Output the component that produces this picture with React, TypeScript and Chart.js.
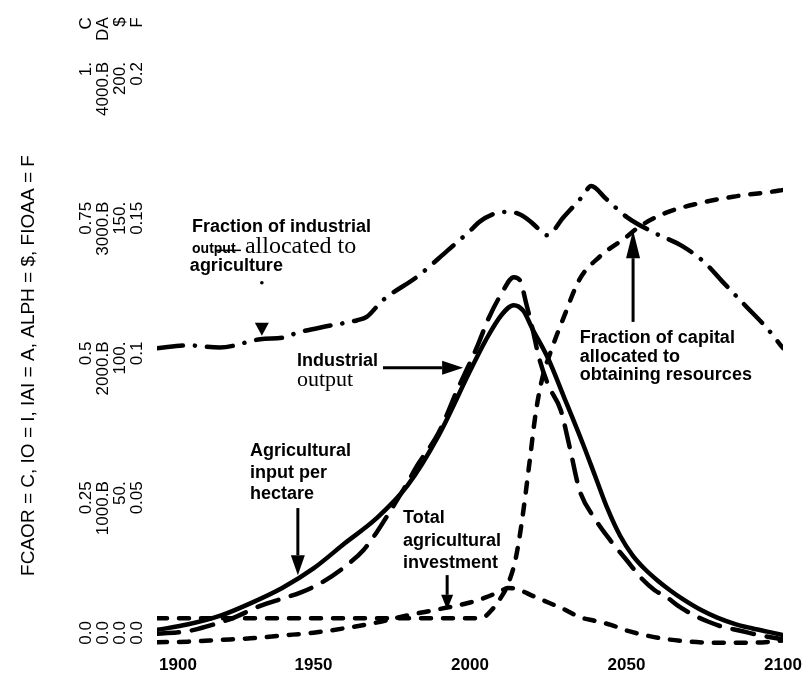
import React, { useEffect, useRef } from 'react';
import { Chart, registerables } from 'chart.js';

Chart.register(...registerables);

// ---------- axes ----------
const xTickYears = [1900, 1950, 2000, 2050, 2100];
const yTickFractions = [0, 0.25, 0.5, 0.75, 1];
const fcaorTickLabels = ['0.0', '0.25', '0.5', '0.75', '1.'];
const ioTickLabels = ['0.0', '1000.B', '2000.B', '3000.B', '4000.B'];
const aiphTickLabels = ['0.0', '50.', '100.', '150.', '200.'];
const fioaaTickLabels = ['0.0', '0.05', '0.1', '0.15', '0.2'];
const headerTickValue = 1.08;
const headerLabels = ['C', 'DA', '$', 'F'];
const axisTitle = 'FCAOR = C, IO = I, IAI = A, ALPH = $, FIOAA = F';

const fcaorMax = 1;
const ioMax = 4000;
const aiphMax = 200;
const fioaaMax = 0.2;

// ---------- series ----------
// Agricultural input per hectare ($, solid)
const aiphYears = [1900, 1910, 1920, 1930, 1940, 1950, 1960, 1970, 1980, 1990, 2000, 2005, 2010, 2014, 2017, 2020, 2025, 2030, 2036, 2040, 2044, 2048, 2052, 2056, 2060, 2064, 2068, 2074, 2079, 2085, 2090, 2095, 2100];
const aiphValues = [5.4, 7.4, 10.4, 15, 20.4, 27.4, 36.4, 45.2, 57, 75, 98, 109, 118, 121.6, 119.6, 113, 102.4, 88.8, 72.2, 60.4, 48.6, 39, 32, 27, 23, 19.5, 16.4, 12.4, 9.8, 7.4, 6, 4.8, 3.6];

// Industrial output (I, long dash), billions
const ioYears = [1900, 1910, 1920, 1925, 1933, 1940, 1946, 1953, 1960, 1966, 1970, 1974, 1980, 1983, 1990, 1996, 2002, 2006, 2010, 2014, 2016, 2018, 2020, 2022, 2025, 2029, 2032, 2035, 2040, 2045, 2050, 2055, 2059, 2063, 2067, 2072, 2076, 2081, 2086, 2092, 2098, 2100];
const ioValues = [80, 100, 160, 200, 280, 332, 376, 452, 560, 680, 800, 940, 1160, 1280, 1520, 1828, 2120, 2340, 2512, 2632, 2608, 2440, 2260, 2060, 1860, 1680, 1400, 1108, 900, 744, 608, 472, 392, 340, 272, 208, 168, 128, 104, 72, 48, 40];

// Total agricultural investment (A, dashed), billions
const taiYears = [1900, 1910, 1920, 1930, 1940, 1950, 1960, 1970, 1980, 1990, 2000, 2005, 2010, 2012, 2015, 2020, 2025, 2030, 2035, 2040, 2045, 2050, 2060, 2070, 2080, 2090, 2100];
const taiValues = [20, 24, 36, 48, 68, 88, 120, 160, 212, 256, 304, 340, 388, 408, 400, 352, 304, 256, 200, 172, 144, 104, 52, 24, 16, 16, 32];

// Fraction of capital allocated to obtaining resources (C, dashed)
const fcaorYears = [1900, 1950, 2000, 2004, 2007, 2010, 2012, 2014.5, 2016.5, 2019, 2021, 2023, 2026, 2030, 2035, 2041.5, 2050, 2054, 2062.5, 2073, 2084, 2096.5, 2100];
const fcaorValues = [0.048, 0.048, 0.048, 0.049, 0.063, 0.086, 0.107, 0.152, 0.218, 0.326, 0.415, 0.475, 0.528, 0.587, 0.654, 0.695, 0.73, 0.748, 0.773, 0.79, 0.802, 0.811, 0.814];

// Fraction of industrial output allocated to agriculture (F, dash-dot)
const fioaaYears = [1900, 1910, 1920, 1933, 1941.5, 1944, 1955, 1964, 1967, 1972, 1983.4, 1992.7, 2000.6, 2003, 2008, 2012.8, 2016, 2019, 2022, 2024.6, 2030, 2036, 2038.7, 2043.5, 2050, 2059, 2067.7, 2075, 2080.5, 2088, 2095, 2100];
const fioaaValues = [0.1062, 0.1072, 0.1064, 0.1094, 0.1102, 0.1114, 0.1142, 0.1162, 0.1174, 0.1232, 0.132, 0.141, 0.1488, 0.1514, 0.1544, 0.155, 0.154, 0.1518, 0.1488, 0.1466, 0.1532, 0.1606, 0.1642, 0.1596, 0.1532, 0.1474, 0.1428, 0.1368, 0.1302, 0.1214, 0.1132, 0.1062];

// ---------- annotations (placed in year / FCAOR-axis units) ----------
const SANS = '"Liberation Sans", Arial, Helvetica, sans-serif';
const SERIF = '"Liberation Serif", "Times New Roman", serif';
const boldNote = `bold 18px ${SANS}`;
const noteTexts = [
  { text: 'Fraction of industrial', year: 1911.2, value: 0.739, font: boldNote },
  { text: 'output', year: 1911.2, value: 0.702, font: `bold 14px ${SANS}` },
  { text: 'allocated to', year: 1928.1, value: 0.701, font: `24px ${SERIF}` },
  { text: 'agriculture', year: 1910.5, value: 0.669, font: boldNote },
  { text: 'Industrial', year: 1944.7, value: 0.499, font: boldNote },
  { text: 'output', year: 1944.7, value: 0.463, font: `22px ${SERIF}` },
  { text: 'Fraction of capital', year: 2035.1, value: 0.54, font: boldNote },
  { text: 'allocated to', year: 2035.1, value: 0.506, font: boldNote },
  { text: 'obtaining resources', year: 2035.1, value: 0.474, font: boldNote },
  { text: 'Agricultural', year: 1929.7, value: 0.338, font: boldNote },
  { text: 'input per', year: 1929.7, value: 0.299, font: boldNote },
  { text: 'hectare', year: 1929.7, value: 0.261, font: boldNote },
  { text: 'Total', year: 1978.6, value: 0.218, font: boldNote },
  { text: 'agricultural', year: 1978.6, value: 0.177, font: boldNote },
  { text: 'investment', year: 1978.6, value: 0.138, font: boldNote },
];
const noteArrows = [
  { fromYear: 1933.5, fromValue: 0.648, toYear: 1933.5, toValue: 0.553, stem: 0, head: 13, half: 7, dot: true },
  { fromYear: 1972.2, fromValue: 0.496, toYear: 1997.8, toValue: 0.496, stem: 3, head: 21, half: 7, dot: false },
  { fromYear: 2052.1, fromValue: 0.578, toYear: 2052.1, toValue: 0.742, stem: 3, head: 28, half: 7, dot: false },
  { fromYear: 1945.0, fromValue: 0.245, toYear: 1945.0, toValue: 0.125, stem: 3, head: 20, half: 7, dot: false },
  { fromYear: 1992.7, fromValue: 0.125, toYear: 1992.7, toValue: 0.063, stem: 3, head: 15, half: 6, dot: false },
];
const noteStrikes = [{ fromYear: 1918.5, toYear: 1926.8, value: 0.706 }];
// the first year label sits a little right of its tick in the original print
const firstXLabelShift = 21;

const toPoints = (xs: number[], ys: number[]) => xs.map((x, i) => ({ x, y: ys[i] }));

const annotationPlugin = {
  id: 'annotations',
  beforeDraw(chart: any) {
    const items = chart.scales.x.getLabelItems();
    if (items && items[0] && !items[0].__shifted) {
      items[0].options.translation = [items[0].options.translation[0] + firstXLabelShift, items[0].options.translation[1]];
      items[0].__shifted = true;
    }
  },
  afterDatasetsDraw(chart: any) {
    const { ctx } = chart;
    const xs = chart.scales.x;
    const ys = chart.scales.y;
    const px = (v: number) => xs.getPixelForValue(v);
    const py = (v: number) => ys.getPixelForValue(v);
    ctx.save();
    ctx.fillStyle = '#000';
    ctx.strokeStyle = '#000';
    ctx.textAlign = 'left';
    ctx.textBaseline = 'alphabetic';
    for (const t of noteTexts) {
      ctx.font = t.font;
      ctx.fillText(t.text, px(t.year), py(t.value));
    }
    for (const s of noteStrikes) {
      ctx.lineWidth = 1.5;
      ctx.beginPath();
      ctx.moveTo(px(s.fromYear), py(s.value));
      ctx.lineTo(px(s.toYear), py(s.value));
      ctx.stroke();
    }
    for (const a of noteArrows) {
      const x0 = px(a.fromYear), y0 = py(a.fromValue);
      const x1 = px(a.toYear), y1 = py(a.toValue);
      const len = Math.hypot(x1 - x0, y1 - y0);
      const ux = (x1 - x0) / len, uy = (y1 - y0) / len;
      const bx = x1 - ux * a.head, by = y1 - uy * a.head;
      if (a.stem > 0) {
        ctx.lineWidth = a.stem;
        ctx.lineCap = 'butt';
        ctx.beginPath();
        ctx.moveTo(x0, y0);
        ctx.lineTo(bx, by);
        ctx.stroke();
      }
      if (a.dot) {
        ctx.beginPath();
        ctx.arc(x0, y0, 1.8, 0, Math.PI * 2);
        ctx.fill();
      }
      ctx.beginPath();
      ctx.moveTo(x1, y1);
      ctx.lineTo(bx - uy * a.half, by + ux * a.half);
      ctx.lineTo(bx + uy * a.half, by - ux * a.half);
      ctx.closePath();
      ctx.fill();
    }
    ctx.restore();
  },
};

export default function App() {
  const canvasRef = useRef<HTMLCanvasElement | null>(null);

  useEffect(() => {
    if (!canvasRef.current) return;
    const lineBase = {
      borderColor: '#000',
      borderWidth: 4.5,
      pointRadius: 0,
      fill: false,
      cubicInterpolationMode: 'monotone' as const,
      borderCapStyle: 'round' as const,
    };
    const hidden = (max: number) => ({
      type: 'linear' as const,
      display: false,
      position: 'right' as const,
      min: 0,
      max,
    });
    const chart = new Chart(canvasRef.current, {
      type: 'line',
      data: {
        datasets: [
          { ...lineBase, label: 'Agricultural input per hectare', data: toPoints(aiphYears, aiphValues), yAxisID: 'yS' },
          { ...lineBase, label: 'Industrial output', data: toPoints(ioYears, ioValues), yAxisID: 'yI', borderDash: [22, 13] },
          { ...lineBase, label: 'Total agricultural investment', data: toPoints(taiYears, taiValues), yAxisID: 'yI', borderDash: [10, 12] },
          { ...lineBase, label: 'Fraction of capital allocated to obtaining resources', data: toPoints(fcaorYears, fcaorValues), yAxisID: 'y', borderDash: [10, 12] },
          { ...lineBase, label: 'Fraction of industrial output allocated to agriculture', data: toPoints(fioaaYears, fioaaValues), yAxisID: 'yF', borderDash: [26, 12, 0.1, 12] },
        ],
      },
      options: {
        animation: false,
        responsive: false,
        layout: { padding: { left: 0, right: 21, top: 86, bottom: 0 } },
        plugins: { legend: { display: false }, tooltip: { enabled: false } },
        scales: {
          x: {
            type: 'linear',
            min: 1900,
            max: 2100,
            grid: { display: false, drawTicks: false },
            border: { display: false },
            afterBuildTicks: (s: any) => {
              s.ticks = xTickYears.map((v) => ({ value: v }));
            },
            afterFit: (s: any) => {
              s.height = 28;
              s.paddingLeft = 0;
              s.paddingRight = 0;
            },
            ticks: {
              autoSkip: false,
              maxRotation: 0,
              padding: 10,
              color: '#000',
              font: { family: SANS, size: 17, weight: 'bold' },
              callback: (v: any) => String(v),
            },
          },
          y: {
            type: 'linear',
            position: 'left',
            min: 0,
            max: fcaorMax,
            grid: { display: false, drawTicks: false },
            border: { display: false },
            afterBuildTicks: (s: any) => {
              s.ticks = [...yTickFractions, headerTickValue].map((v) => ({ value: v }));
            },
            afterFit: (s: any) => {
              s.width = 157;
              s.paddingTop = 0;
              s.paddingBottom = 0;
            },
            title: {
              display: true,
              text: axisTitle,
              color: '#000',
              font: { family: SANS, size: 19 },
              padding: { top: 17, bottom: 0 },
            },
            ticks: {
              autoSkip: false,
              minRotation: 90,
              maxRotation: 90,
              padding: 45,
              labelOffset: -24,
              color: '#000',
              font: { family: SANS, size: 17, lineHeight: 1 },
              callback: (_v: any, i: number) =>
                i < yTickFractions.length
                  ? [fcaorTickLabels[i], ioTickLabels[i], aiphTickLabels[i], fioaaTickLabels[i]]
                  : headerLabels,
            },
          },
          yI: hidden(ioMax),
          yS: hidden(aiphMax),
          yF: hidden(fioaaMax),
        },
      },
      plugins: [annotationPlugin],
    } as any);
    return () => chart.destroy();
  }, []);

  return (
    <div style={{ position: 'fixed', left: 0, top: 0, width: 804, height: 673, background: '#fff' }}>
      <canvas ref={canvasRef} width={804} height={673} />
    </div>
  );
}
